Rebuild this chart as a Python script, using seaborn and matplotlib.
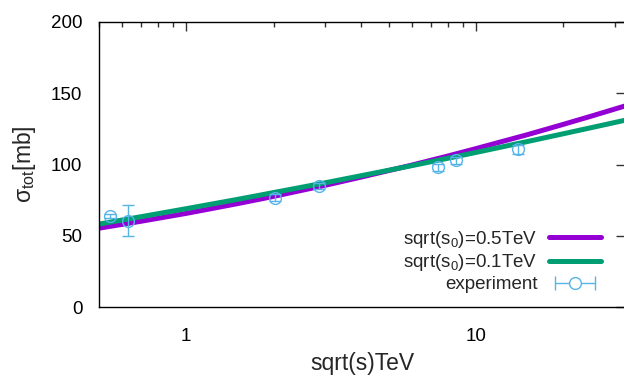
import matplotlib
matplotlib.use("Agg")
import matplotlib.pyplot as plt
import pandas as pd
import seaborn as sns
from matplotlib.legend_handler import HandlerLine2D, HandlerTuple
from matplotlib.lines import Line2D
from matplotlib.ticker import LogLocator, NullFormatter, FixedLocator

# curves (sqrt(s) in TeV, sigma_tot in mb)
s_curve = [0.5, 0.7, 1.0, 1.5, 2.0, 3.0, 4.0, 6.0, 8.0, 10.0, 15.0, 20.0, 25.0, 32.5]
sigma_s0_05 = [55.3, 60.2, 65.7, 72.5, 77.6, 85.3, 91.1, 99.6, 106.0, 111.2, 120.9, 128.2, 134.0, 141.0]
sigma_s0_01 = [58.2, 63.4, 69.0, 75.5, 80.3, 87.1, 92.1, 99.2, 104.4, 108.5, 116.1, 121.6, 125.9, 131.0]

# experimental points
s_exp = [0.545, 0.632, 2.02, 2.86, 7.4, 8.5, 13.9]
sigma_exp = [63.7, 60.5, 76.7, 84.9, 98.0, 103.0, 110.6]
sigma_err = [1.5, 11.0, 2.5, 2.0, 2.5, 2.3, 3.4]

PURPLE = "#9400d3"
GREEN = "#009e73"
BLUE = "#56b4e9"

sns.set_theme(style="white")
plt.rcParams["font.family"] = ["Liberation Sans", "DejaVu Sans"]
plt.rcParams["mathtext.fontset"] = "custom"
plt.rcParams["mathtext.rm"] = "Liberation Sans"
plt.rcParams["mathtext.it"] = "Liberation Sans:italic"

fig = plt.figure(figsize=(6.24, 3.86), dpi=100)
ax = fig.add_axes([99 / 624, 79 / 386, 526 / 624, 285 / 386])

curves = pd.DataFrame({"s": s_curve, "a": sigma_s0_05, "b": sigma_s0_01})
sns.lineplot(data=curves, x="s", y="a", color=PURPLE, linewidth=3.6, ax=ax)
sns.lineplot(data=curves, x="s", y="b", color=GREEN, linewidth=3.6, ax=ax)
ax.errorbar(s_exp, sigma_exp, yerr=sigma_err, fmt="o", color=BLUE, mfc="none",
            ms=8.5, mew=1.0, elinewidth=1.0, capsize=4.5, capthick=1.0)

ax.set_xscale("log")
ax.set_xlim(0.5, 32.6)
ax.set_ylim(0, 200)
ax.set_yticks([0, 50, 100, 150, 200])
ax.xaxis.set_major_locator(FixedLocator([1, 10]))
ax.set_xticklabels(["1", "10"])
ax.xaxis.set_minor_locator(LogLocator(base=10, subs=range(2, 10)))
ax.xaxis.set_minor_formatter(NullFormatter())

ax.tick_params(which="both", direction="in", top=True, right=True, colors="#333333",
               labelcolor="black", labelsize=13.5)
ax.tick_params(which="major", length=6.5, width=1.0)
ax.tick_params(which="minor", length=3.5, width=1.0)
ax.tick_params(axis="y", pad=12)
ax.tick_params(axis="x", pad=15)
for sp in ax.spines.values():
    sp.set_color("black")
    sp.set_linewidth(1.0)

ax.set_xlabel("sqrt(s)TeV", fontsize=16.5, labelpad=5)
ax.set_ylabel(r"$\mathrm{σ_{tot}}$[mb]", fontsize=16.5, labelpad=9)

h_a = Line2D([], [], color=PURPLE, linewidth=3.6)
h_b = Line2D([], [], color=GREEN, linewidth=3.6)
h_bar = Line2D([], [], color=BLUE, linewidth=1.0, marker="|", ms=10, mew=1.0)
h_dot = Line2D([], [], color=BLUE, linestyle="none", marker="o", mfc="white", ms=8.5, mew=1.0)
ax.legend(
    [h_a, h_b, (h_bar, h_dot)],
    [r"sqrt(s$_{\mathrm{0}}$)=0.5TeV", r"sqrt(s$_{\mathrm{0}}$)=0.1TeV", "experiment"],
    handler_map={tuple: HandlerTuple(ndivide=1), h_bar: HandlerLine2D(numpoints=2),
                 h_dot: HandlerLine2D(numpoints=1)},
    loc="lower right", bbox_to_anchor=(0.972, 0.015), frameon=False, markerfirst=False,
    fontsize=13.5, handlelength=2.75, handletextpad=0.64, labelspacing=0.15, borderpad=0,
)

fig.savefig("out.png", dpi=100)
